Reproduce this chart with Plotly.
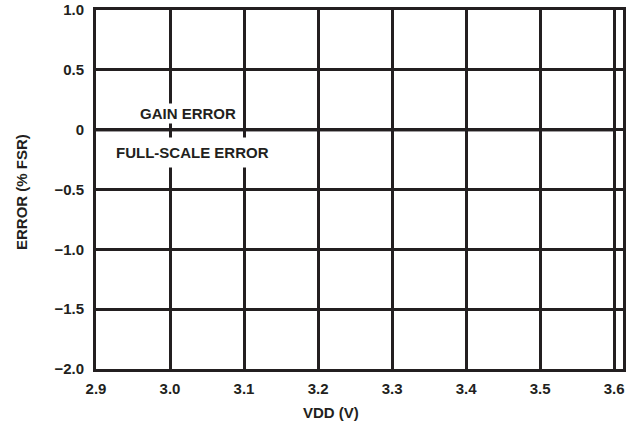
import plotly.graph_objects as go

# Data
vdd = [2.9, 3.0, 3.1, 3.2, 3.3, 3.4, 3.5, 3.6]
gain_error = [0, 0, 0, 0, 0, 0, 0, 0]
full_scale_error = [0, 0, 0, 0, 0, 0, 0, 0]
x_ticks = [2.9, 3.0, 3.1, 3.2, 3.3, 3.4, 3.5, 3.6]
x_tick_labels = ["2.9", "3.0", "3.1", "3.2", "3.3", "3.4", "3.5", "3.6"]
y_ticks = [-2.0, -1.5, -1.0, -0.5, 0, 0.5, 1.0]
y_tick_labels = ["\u22122.0", "\u22121.5", "\u22121.0", "\u22120.5", "0", "0.5", "1.0"]

INK = "#231f20"
FONT = dict(family="Liberation Sans, Arial, Helvetica, sans-serif", size=15, color=INK, weight="bold")

fig = go.Figure()
fig.add_trace(go.Scatter(x=vdd, y=gain_error, mode="lines", line=dict(color=INK, width=3),
                         name="GAIN ERROR", showlegend=False, hoverinfo="skip"))
fig.add_trace(go.Scatter(x=vdd, y=full_scale_error, mode="lines", line=dict(color=INK, width=3),
                         name="FULL-SCALE ERROR", showlegend=False, hoverinfo="skip"))

L, R, T, B = 96, 15, 10, 56
W, H = 638, 425
pw = W - L - R
ph = H - T - B

def px(x, y):
    return (x - L) / pw, 1 - (y - T) / ph

xt, yt = px(331, 412)
xy, yy = px(21, 192)

fig.update_layout(
    template="none",
    width=W, height=H,
    margin=dict(l=L, r=R, t=T, b=B, pad=0, autoexpand=False),
    paper_bgcolor="white", plot_bgcolor="white",
    font=FONT,
    showlegend=False,
    xaxis=dict(range=[2.9, 3.612], tickvals=x_ticks, ticktext=x_tick_labels,
               showgrid=True, gridcolor=INK, gridwidth=3, zeroline=False,
               showline=True, linecolor=INK, linewidth=3, mirror=True, automargin=False,
               ticks="", ticklabelstandoff=4, tickfont=FONT, fixedrange=True),
    yaxis=dict(range=[-2.0, 1.0], tickvals=y_ticks, ticktext=y_tick_labels,
               showgrid=True, gridcolor=INK, gridwidth=3, zeroline=False,
               showline=True, linecolor=INK, linewidth=3, mirror=True, automargin=False,
               ticks="", ticklabelstandoff=6, tickfont=FONT, fixedrange=True),
    annotations=[
        dict(text="GAIN ERROR", x=3.024, y=0.134, xref="x", yref="y", showarrow=False,
             font=FONT, bgcolor="white", borderpad=1),
        dict(text="FULL-SCALE ERROR", x=3.030, y=-0.192, xref="x", yref="y", showarrow=False,
             font=FONT, bgcolor="white", borderpad=6),
        dict(text="VDD (V)", x=xt, y=yt, xref="paper", yref="paper", showarrow=False,
             xanchor="center", yanchor="middle", font=FONT),
        dict(text="ERROR (% FSR)", x=xy, y=yy, xref="paper", yref="paper", showarrow=False,
             xanchor="center", yanchor="middle", font=FONT, textangle=-90),
    ],
)

fig.write_html(
    "out.html",
    config={"displayModeBar": False, "staticPlot": True},
    post_script="document.body.style.margin='0';document.body.style.overflow='hidden';",
)
